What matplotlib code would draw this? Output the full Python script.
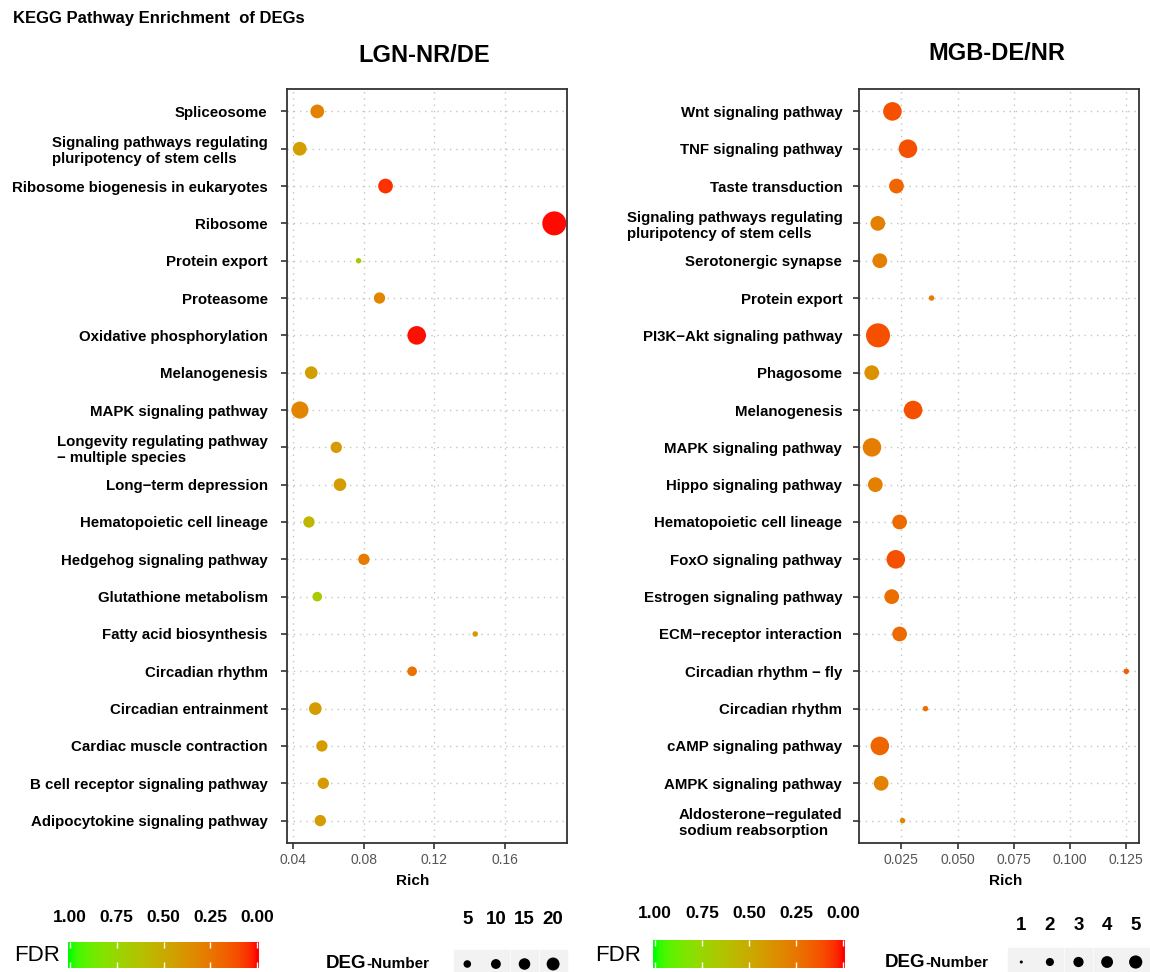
import numpy as np
import matplotlib
matplotlib.use('Agg')
import matplotlib.pyplot as plt
import matplotlib.patches as mpatches
from matplotlib.colors import ListedColormap, Normalize

W, H, DPI = 1150, 972, 100
FONT = ['Liberation Sans', 'DejaVu Sans']

# ---- LGN-NR/DE (top to bottom) ----
lgn_terms = ['Spliceosome',
             'Signaling pathways regulating\npluripotency of stem cells',
             'Ribosome biogenesis in eukaryotes',
             'Ribosome',
             'Protein export',
             'Proteasome',
             'Oxidative phosphorylation',
             'Melanogenesis',
             'MAPK signaling pathway',
             'Longevity regulating pathway\n\u2212 multiple species',
             'Long\u2212term depression',
             'Hematopoietic cell lineage',
             'Hedgehog signaling pathway',
             'Glutathione metabolism',
             'Fatty acid biosynthesis',
             'Circadian rhythm',
             'Circadian entrainment',
             'Cardiac muscle contraction',
             'B cell receptor signaling pathway',
             'Adipocytokine signaling pathway']
lgn_rich = [0.0539, 0.0440, 0.0924, 0.1876, 0.0772, 0.0890, 0.1100, 0.0505, 0.0441, 0.0646,
            0.0667, 0.0492, 0.0802, 0.0539, 0.1430, 0.1074, 0.0528, 0.0565, 0.0573, 0.0556]
lgn_count = [5, 5, 6, 21, 1, 3, 11, 4, 9, 3, 4, 3, 3, 2, 1, 2, 4, 3, 3, 3]
lgn_fdr = [0.30, 0.43, 0.05, 0.005, 0.65, 0.32, 0.01, 0.43, 0.31, 0.41,
           0.42, 0.56, 0.27, 0.68, 0.40, 0.23, 0.42, 0.42, 0.42, 0.42]
lgn_xticks = [0.04, 0.08, 0.12, 0.16]
lgn_xticklabels = ['0.04', '0.08', '0.12', '0.16']
lgn_size_breaks = [5, 10, 15, 20]

# ---- MGB-DE/NR (top to bottom) ----
mgb_terms = ['Wnt signaling pathway',
             'TNF signaling pathway',
             'Taste transduction',
             'Signaling pathways regulating\npluripotency of stem cells',
             'Serotonergic synapse',
             'Protein export',
             'PI3K\u2212Akt signaling pathway',
             'Phagosome',
             'Melanogenesis',
             'MAPK signaling pathway',
             'Hippo signaling pathway',
             'Hematopoietic cell lineage',
             'FoxO signaling pathway',
             'Estrogen signaling pathway',
             'ECM\u2212receptor interaction',
             'Circadian rhythm \u2212 fly',
             'Circadian rhythm',
             'cAMP signaling pathway',
             'AMPK signaling pathway',
             'Aldosterone\u2212regulated\nsodium reabsorption']
mgb_rich = [0.0210, 0.0279, 0.0228, 0.0145, 0.0154, 0.0384, 0.0146, 0.0118, 0.0302, 0.0119,
            0.0134, 0.0242, 0.0225, 0.0207, 0.0242, 0.1250, 0.0357, 0.0154, 0.0160, 0.0255]
mgb_count = [3, 3, 2, 2, 2, 1, 5, 2, 3, 3, 2, 2, 3, 2, 2, 1, 1, 3, 2, 1]
mgb_fdr = [0.12, 0.12, 0.19, 0.29, 0.29, 0.27, 0.12, 0.37, 0.12, 0.28,
           0.29, 0.20, 0.12, 0.22, 0.20, 0.16, 0.23, 0.19, 0.30, 0.32]
mgb_xticks = [0.025, 0.050, 0.075, 0.100, 0.125]
mgb_xticklabels = ['0.025', '0.050', '0.075', '0.100', '0.125']
mgb_size_breaks = [1, 2, 3, 4, 5]

fdr_breaks = [1.00, 0.75, 0.50, 0.25, 0.00]


def srgb_to_lab(rgb):
    c = np.asarray(rgb, float)
    lin = np.where(c <= 0.04045, c / 12.92, ((c + 0.055) / 1.055) ** 2.4)
    M = np.array([[0.4124, 0.3576, 0.1805], [0.2126, 0.7152, 0.0722], [0.0193, 0.1192, 0.9505]])
    xyz = M @ lin / np.array([0.95047, 1.0, 1.08883])
    d = 6 / 29
    f = np.where(xyz > d ** 3, np.cbrt(xyz), xyz / (3 * d * d) + 4 / 29)
    return np.array([116 * f[1] - 16, 500 * (f[0] - f[1]), 200 * (f[1] - f[2])])


def lab_to_srgb(lab):
    L, a, b = lab
    fy = (L + 16) / 116
    f = np.array([fy + a / 500, fy, fy - b / 200])
    d = 6 / 29
    xyz = np.where(f > d, f ** 3, 3 * d * d * (f - 4 / 29)) * np.array([0.95047, 1.0, 1.08883])
    Mi = np.array([[3.2406, -1.5372, -0.4986], [-0.9689, 1.8758, 0.0415], [0.0557, -0.2040, 1.0570]])
    lin = np.clip(Mi @ xyz, 0, 1)
    return np.where(lin <= 0.0031308, 12.92 * lin, 1.055 * lin ** (1 / 2.4) - 0.055)


def lab_ramp(c0, c1, n=256):
    l0, l1 = srgb_to_lab(c0), srgb_to_lab(c1)
    return np.array([lab_to_srgb(l0 + (l1 - l0) * t) for t in np.linspace(0, 1, n)])


# FDR 0 -> red, FDR 1 -> green (interpolated in Lab like ggplot)
fdr_cmap = ListedColormap(lab_ramp((1, 0, 0), (0, 1, 0)))
fdr_norm = Normalize(0, 1)


def dot_px(count, lo, hi, dmin=5.5, dmax=24.0):
    return dmin + (dmax - dmin) * np.sqrt((np.asarray(count, float) - lo) / (hi - lo))


def px_to_s(d):
    return (np.asarray(d) * 72.0 / DPI) ** 2


def px_rect(x0, y0, x1, y1):
    return [x0 / W, 1 - y1 / H, (x1 - x0) / W, (y1 - y0) / H]


def draw_panel(ax, terms, rich, count, fdr, xticks, xticklabels, rich_x, pad):
    n = len(terms)
    y = np.arange(n)[::-1]
    lo, hi = min(count), max(count)
    ax.scatter(rich, y, s=px_to_s(dot_px(count, lo, hi)), c=fdr, cmap=fdr_cmap,
               norm=fdr_norm, edgecolors='none', zorder=3)
    span = max(rich) - min(rich)
    ax.set_xlim(min(rich) - 0.05 * span, max(rich) + 0.05 * span)
    ax.set_ylim(-0.6, n - 0.4)
    ax.set_yticks(y)
    ax.set_yticklabels(terms, family=FONT, fontweight='bold', fontsize=10.8,
                       color='black', linespacing=1.2)
    for t in ax.get_yticklabels():
        t.set_multialignment('left')
    ax.set_xticks(xticks)
    ax.set_xticklabels(xticklabels, family=FONT, fontsize=10, color='#555555')
    ax.tick_params(axis='y', length=4, width=1.2, color='#333333', pad=pad)
    ax.tick_params(axis='x', length=4, width=1.2, color='#333333', pad=3)
    ax.grid(True, color='#C4C4C4', linestyle=(0, (1, 3.5)), linewidth=1.0, zorder=0)
    ax.set_axisbelow(True)
    for sp in ax.spines.values():
        sp.set_color('#333333')
        sp.set_linewidth(1.3)
    ax.set_xlabel('Rich', family=FONT, fontweight='bold', fontsize=11)
    ax.xaxis.set_label_coords(rich_x, -(881 - 843) / 754)
    ax.xaxis.label.set_va('center')


def fdr_bar(x0, x1, y0, y1, pad, label_x):
    cax = fig.add_axes(px_rect(x0, y0, x1, y1))
    grad = np.linspace(1.01, -0.01, 256)[None, :]
    cax.imshow(grad, aspect='auto', cmap=fdr_cmap, norm=fdr_norm,
               extent=(1.01, -0.01, 0, 1))
    cax.set_xlim(1.01, -0.01)
    cax.set_ylim(0, 1)
    cax.set_yticks([])
    cax.set_xticks(fdr_breaks)
    cax.set_xticklabels(['%.2f' % v for v in fdr_breaks], family=FONT,
                        fontweight='bold', fontsize=12.5)
    cax.tick_params(axis='x', top=True, bottom=True, labeltop=True, labelbottom=False,
                    direction='in', color='white', length=4, width=1, pad=pad)
    for sp in cax.spines.values():
        sp.set_visible(False)
    fig.text(label_x / W, 1 - 955 / H, 'FDR', family=FONT, fontsize=16,
             ha='left', va='center')


def deg_title(x, y):
    # "DEG" larger, "-Number" smaller, both on one baseline
    t = fig.text(x / W, 1 - y / H, 'DEG', family=FONT, fontweight='bold', fontsize=13.5,
                 ha='left', va='baseline')
    fig.canvas.draw()
    bb = t.get_window_extent()
    fig.text(bb.x1 / W, 1 - y / H, '-Number', family=FONT, fontweight='bold',
             fontsize=11, ha='left', va='baseline')


def deg_keys(x0, y_mid, breaks, lo, hi, num_y):
    key_w, key_h = 28.6, 28
    n = len(breaks)
    lax = fig.add_axes(px_rect(x0, y_mid - key_h / 2, x0 + key_w * n, y_mid + key_h / 2))
    lax.set_xlim(0, n)
    lax.set_ylim(0, 1)
    lax.axis('off')
    for i in range(n):
        lax.add_patch(mpatches.Rectangle((i + 0.03, 0), 0.94, 1, color='#F2F2F2',
                                         clip_on=False))
        fig.text((x0 + key_w * (i + 0.5)) / W, 1 - num_y / H, str(breaks[i]),
                 family=FONT, fontweight='bold', fontsize=13.5, ha='center', va='center')
    lax.scatter(np.arange(n) + 0.5, np.full(n, 0.5),
                s=px_to_s(0.55 * dot_px(breaks, lo, hi)),
                c='black', edgecolors='none', clip_on=False, zorder=3)


fig = plt.figure(figsize=(W / DPI, H / DPI), dpi=DPI)

ax1 = fig.add_axes(px_rect(287, 89, 567, 843))
draw_panel(ax1, lgn_terms, lgn_rich, lgn_count, lgn_fdr, lgn_xticks, lgn_xticklabels,
           (413 - 287) / 280, 10)
ax2 = fig.add_axes(px_rect(859, 89, 1139, 843))
draw_panel(ax2, mgb_terms, mgb_rich, mgb_count, mgb_fdr, mgb_xticks, mgb_xticklabels,
           (1006 - 859) / 280, 8)

fig.text(13 / W, 1 - 19 / H, 'KEGG Pathway Enrichment  of DEGs', family=FONT,
         fontweight='bold', fontsize=12, ha='left', va='center')
fig.text(424 / W, 1 - 55 / H, 'LGN-NR/DE', family=FONT, fontweight='bold', fontsize=17,
         ha='center', va='center')
fig.text(997 / W, 1 - 54 / H, 'MGB-DE/NR', family=FONT, fontweight='bold', fontsize=17,
         ha='center', va='center')

fdr_bar(68, 259, 942, 968, 12, 14)
fdr_bar(653, 845, 940, 968, 14, 595)

deg_keys(453, 964, lgn_size_breaks, min(lgn_count), max(lgn_count), 919)
deg_keys(1007, 962, mgb_size_breaks, min(mgb_count), max(mgb_count), 925)
deg_title(326, 968)
deg_title(885, 967)

fig.savefig('out.png', dpi=DPI)
